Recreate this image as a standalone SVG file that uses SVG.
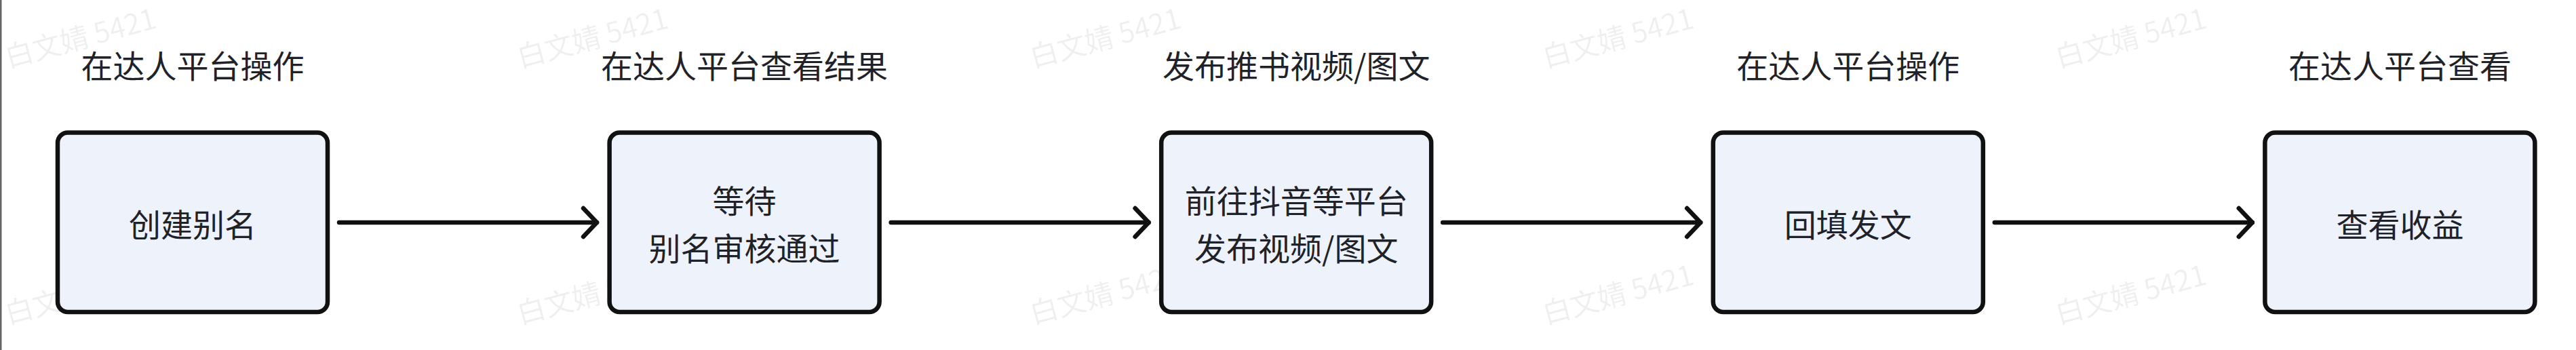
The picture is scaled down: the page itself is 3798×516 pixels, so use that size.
<svg xmlns="http://www.w3.org/2000/svg" width="3798" height="516" viewBox="0 0 3798 516">
  <style>
    .node rect { fill: #eef2fa; stroke: #111111; stroke-width: 6.5; }
    .txt { font-family: "Noto Sans CJK SC", "Noto Sans", sans-serif; font-size: 47px; fill: #1f2329; text-anchor: middle; }
    .edge { fill: none; stroke: #111111; stroke-width: 6.5; stroke-linecap: round; }
    .wm { font-family: "Noto Sans CJK SC", "Noto Sans", sans-serif; font-size: 42px; fill: #000000; fill-opacity: 0.07; }
  </style>
  <defs>
    <marker id="arrow" viewBox="-30 -30 40 60" refX="0" refY="0" markerWidth="40" markerHeight="60" markerUnits="userSpaceOnUse" orient="auto" overflow="visible">
      <path d="M -20 -21 L 0 0 L -20 21" fill="none" stroke="#111111" stroke-width="6.5" stroke-linecap="round" stroke-linejoin="round"/>
    </marker>
  </defs>
  <rect x="0" y="0" width="3798" height="516" fill="#ffffff"/>
  <rect x="0" y="0" width="2.5" height="516" fill="#666666"/>

  <g id="watermarks">
    <text class="wm" x="12" y="100" transform="rotate(-15 12 100)">白文婧 5421</text>
    <text class="wm" x="767" y="100" transform="rotate(-15 767 100)">白文婧 5421</text>
    <text class="wm" x="1523" y="100" transform="rotate(-15 1523 100)">白文婧 5421</text>
    <text class="wm" x="2279" y="100" transform="rotate(-15 2279 100)">白文婧 5421</text>
    <text class="wm" x="3035" y="100" transform="rotate(-15 3035 100)">白文婧 5421</text>
    <text class="wm" x="12" y="478" transform="rotate(-15 12 478)">白文婧 5421</text>
    <text class="wm" x="767" y="478" transform="rotate(-15 767 478)">白文婧 5421</text>
    <text class="wm" x="1523" y="478" transform="rotate(-15 1523 478)">白文婧 5421</text>
    <text class="wm" x="2279" y="478" transform="rotate(-15 2279 478)">白文婧 5421</text>
    <text class="wm" x="3035" y="478" transform="rotate(-15 3035 478)">白文婧 5421</text>
  </g>

  <g id="stage-labels">
    <text class="txt" x="284" y="115">在达人平台操作</text>
    <text class="txt" x="1097.6" y="115">在达人平台查看结果</text>
    <text class="txt" x="1911.2" y="115">发布推书视频/图文</text>
    <text class="txt" x="2724.8" y="115">在达人平台操作</text>
    <text class="txt" x="3538.4" y="115">在达人平台查看</text>
  </g>

  <g id="connectors">
    <line class="edge" x1="500" y1="328" x2="880" y2="328" marker-end="url(#arrow)"/>
    <line class="edge" x1="1313.6" y1="328" x2="1693.6" y2="328" marker-end="url(#arrow)"/>
    <line class="edge" x1="2127.2" y1="328" x2="2507.2" y2="328" marker-end="url(#arrow)"/>
    <line class="edge" x1="2940.8" y1="328" x2="3320.8" y2="328" marker-end="url(#arrow)"/>
  </g>

  <g id="node-1" class="node">
    <rect x="85" y="195.5" width="398" height="264.5" rx="15" ry="15"/>
    <text class="txt" x="284" y="349">创建别名</text>
  </g>
  <g id="node-2" class="node">
    <rect x="898.6" y="195.5" width="398" height="264.5" rx="15" ry="15"/>
    <text class="txt" x="1097.6" y="314">等待</text>
    <text class="txt" x="1097.6" y="384">别名审核通过</text>
  </g>
  <g id="node-3" class="node">
    <rect x="1712.2" y="195.5" width="398" height="264.5" rx="15" ry="15"/>
    <text class="txt" x="1911.2" y="314">前往抖音等平台</text>
    <text class="txt" x="1911.2" y="384">发布视频/图文</text>
  </g>
  <g id="node-4" class="node">
    <rect x="2525.8" y="195.5" width="398" height="264.5" rx="15" ry="15"/>
    <text class="txt" x="2724.8" y="349">回填发文</text>
  </g>
  <g id="node-5" class="node">
    <rect x="3339.4" y="195.5" width="398" height="264.5" rx="15" ry="15"/>
    <text class="txt" x="3538.4" y="349">查看收益</text>
  </g>
</svg>
